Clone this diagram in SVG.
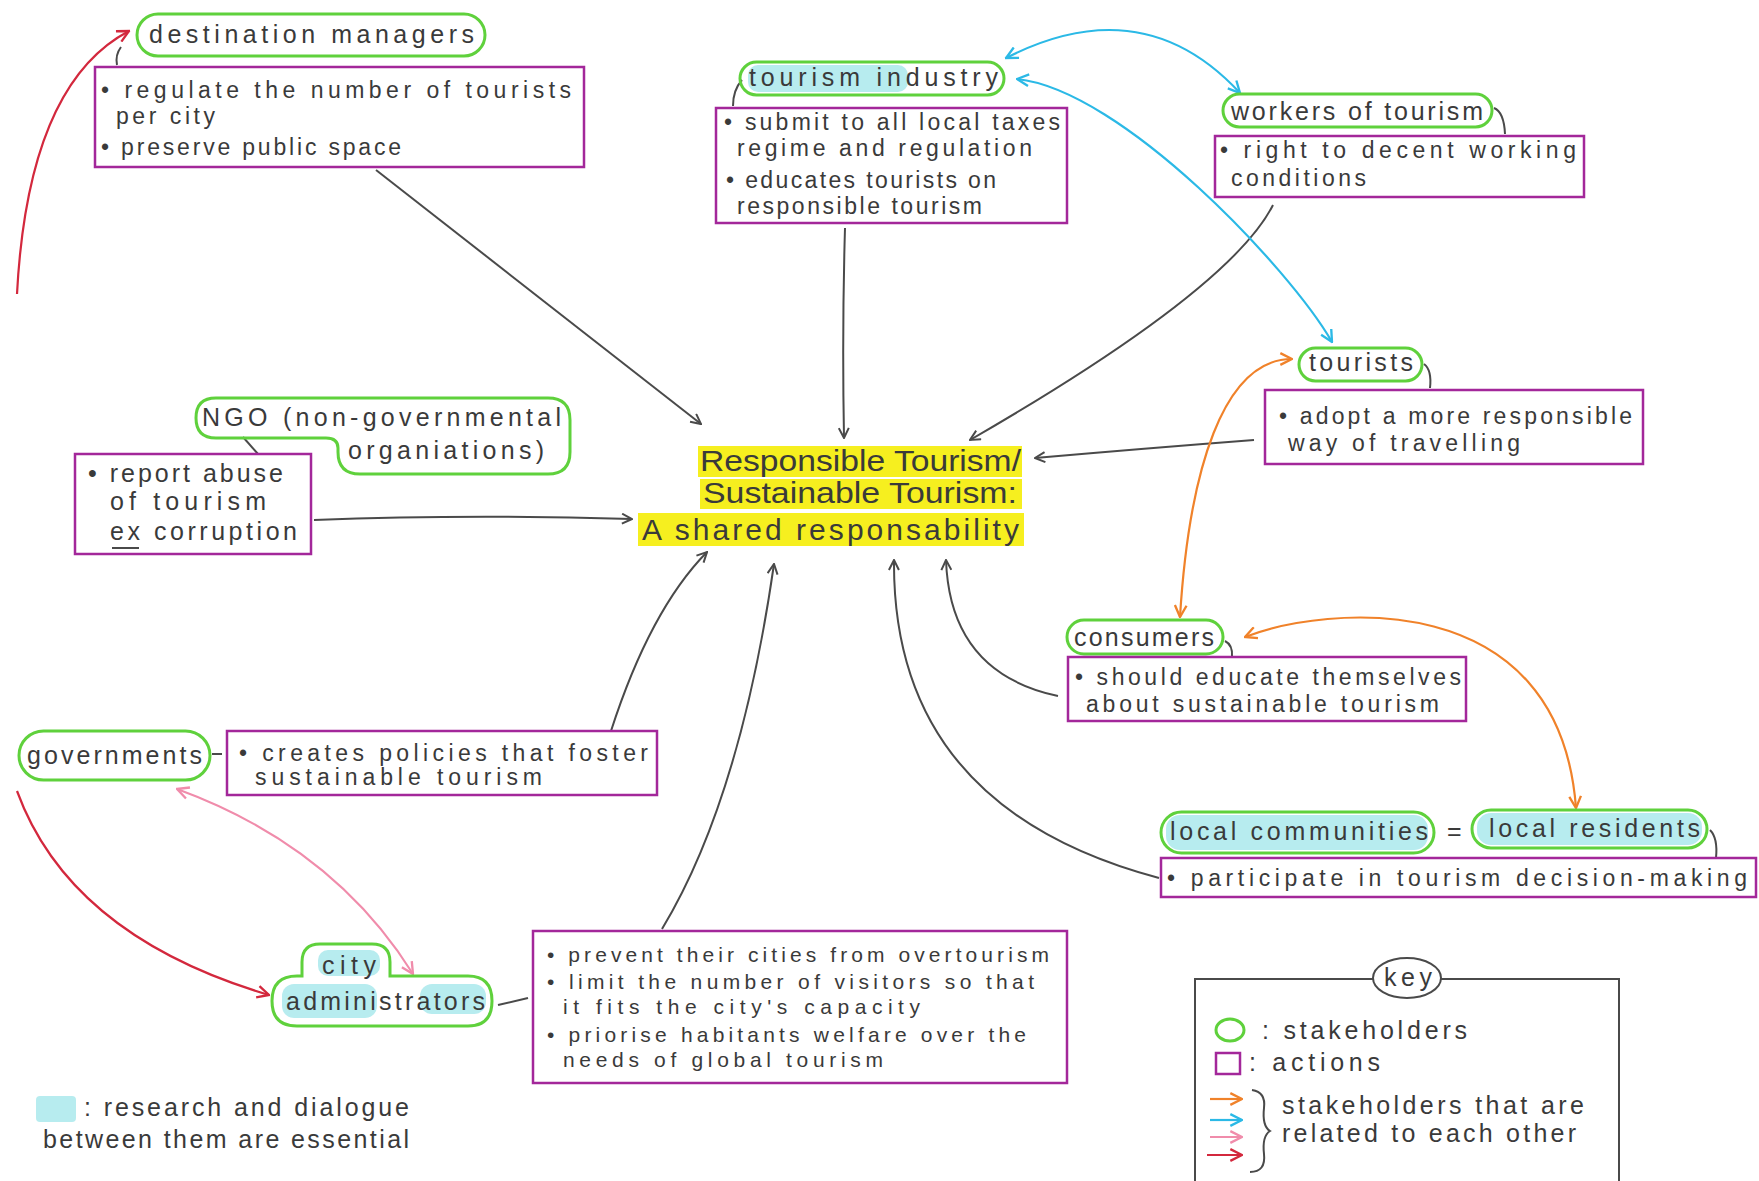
<svg xmlns="http://www.w3.org/2000/svg" width="1759" height="1181" viewBox="0 0 1759 1181">
<defs>
<style>
text{font-family:"Liberation Sans","DejaVu Sans",sans-serif;fill:#3a3a3a}
.s{font-size:25px}
.a{font-size:23px}
.d{font-size:23px}
.e{font-size:21px}
.c{font-size:30px}
.pill{fill:none;stroke:#5fd13c;stroke-width:3}
.box{fill:none;stroke:#a3279a;stroke-width:2.5}
.hl{fill:#9fe6ea;opacity:0.75}
.yl{fill:#f6ef1f}
.k{fill:none;stroke:#4a4a4a;stroke-width:2}
.cy{fill:none;stroke:#2bb9e6;stroke-width:2.2}
.or{fill:none;stroke:#f0822a;stroke-width:2.2}
.pk{fill:none;stroke:#f08cab;stroke-width:2}
.rd{fill:none;stroke:#d3283d;stroke-width:2.2}
</style>
<marker id="mk" viewBox="0 0 12 12" refX="11" refY="6" markerWidth="12" markerHeight="12" markerUnits="userSpaceOnUse" orient="auto-start-reverse"><path d="M1,1 L11,6 L1,11" fill="none" stroke="#4a4a4a" stroke-width="2"/></marker>
<marker id="mc" viewBox="0 0 12 12" refX="11" refY="6" markerWidth="14" markerHeight="14" markerUnits="userSpaceOnUse" orient="auto-start-reverse"><path d="M1,1 L11,6 L1,11" fill="none" stroke="#2bb9e6" stroke-width="2"/></marker>
<marker id="mo" viewBox="0 0 12 12" refX="11" refY="6" markerWidth="14" markerHeight="14" markerUnits="userSpaceOnUse" orient="auto-start-reverse"><path d="M1,1 L11,6 L1,11" fill="none" stroke="#f0822a" stroke-width="2"/></marker>
<marker id="mp" viewBox="0 0 12 12" refX="11" refY="6" markerWidth="14" markerHeight="14" markerUnits="userSpaceOnUse" orient="auto-start-reverse"><path d="M1,1 L11,6 L1,11" fill="none" stroke="#f08cab" stroke-width="2"/></marker>
<marker id="mr" viewBox="0 0 12 12" refX="11" refY="6" markerWidth="14" markerHeight="14" markerUnits="userSpaceOnUse" orient="auto-start-reverse"><path d="M1,1 L11,6 L1,11" fill="none" stroke="#d3283d" stroke-width="2"/></marker>
</defs>
<rect width="1759" height="1181" fill="#ffffff"/>

<g id="connectors">
<path class="k" d="M376 170 L701 424" marker-end="url(#mk)"/>
<path class="k" d="M845 228 Q842 330 844 438" marker-end="url(#mk)"/>
<path class="k" d="M1273 205 Q1230 290 970 440" marker-end="url(#mk)"/>
<path class="k" d="M1254 440 Q1150 448 1035 458" marker-end="url(#mk)"/>
<path class="k" d="M314 520 Q470 514 632 519" marker-end="url(#mk)"/>
<path class="k" d="M611 731 Q650 610 707 552" marker-end="url(#mk)"/>
<path class="k" d="M662 929 Q740 800 774 564" marker-end="url(#mk)"/>
<path class="k" d="M1159 878 Q892 807 894 560" marker-end="url(#mk)"/>
<path class="k" d="M1058 696 Q950 673 946 560" marker-end="url(#mk)"/>
<path class="rd" d="M17 294 Q28 84 129 31" marker-end="url(#mr)"/>
<path class="rd" d="M17 791 Q70 936 269 995" marker-end="url(#mr)"/>
<path class="pk" d="M177 789 Q333 846 413 974" marker-start="url(#mp)" marker-end="url(#mp)"/>
<path class="cy" d="M1006 58 Q1143 -12 1240 93" marker-start="url(#mc)" marker-end="url(#mc)"/>
<path class="cy" d="M1017 79 C1122 90 1290 269 1332 342" marker-start="url(#mc)" marker-end="url(#mc)"/>
<path class="or" d="M1292 359 C1223 359 1189 471 1180 617" marker-start="url(#mo)" marker-end="url(#mo)"/>
<path class="or" d="M1245 637 C1324 606 1559 583 1576 808" marker-start="url(#mo)" marker-end="url(#mo)"/>
<path class="k" d="M121 47 Q115 55 117 65"/>
<path class="k" d="M742 80 Q733 90 733 106"/>
<path class="k" d="M1494 108 Q1504 112 1505 134"/>
<path class="k" d="M1424 364 Q1432 370 1430 388"/>
<path class="k" d="M243 437 L258 454"/>
<path class="k" d="M1225 641 Q1233 645 1232 657"/>
<path class="k" d="M1710 830 Q1718 838 1716 858"/>
<path class="k" d="M212 754 H222"/>
<path class="k" d="M498 1005 L528 998"/>
</g>

<g id="center">
<rect class="yl" x="698" y="446" width="324" height="31"/>
<rect class="yl" x="700" y="479" width="322" height="30"/>
<rect class="yl" x="638" y="513" width="386" height="33"/>
<text class="c" x="700" y="471" textLength="321" lengthAdjust="spacingAndGlyphs">Responsible Tourism/</text>
<text class="c" x="703" y="503" textLength="314" lengthAdjust="spacingAndGlyphs">Sustainable Tourism:</text>
<text class="c" x="642" y="540" textLength="377">A shared responsability</text>
</g>

<g id="destination-managers">
<rect class="pill" x="137" y="14" width="348" height="42" rx="21"/>
<text class="s" x="149" y="43" textLength="325">destination managers</text>
</g>
<g id="destination-actions">
<rect class="box" x="95" y="67" width="489" height="100"/>
<text class="d" x="101" y="98" textLength="470">• regulate the number of tourists</text>
<text class="d" x="116" y="124" textLength="99">per city</text>
<text class="d" x="101" y="155" textLength="300">• preserve public space</text>
</g>

<g id="tourism-industry">
<rect class="hl" x="748" y="65" width="160" height="27" rx="10"/>
<rect class="pill" x="740" y="62" width="264" height="33" rx="16.5"/>
<text class="s" x="749" y="86" textLength="249">tourism industry</text>
</g>
<g id="tourism-industry-actions">
<rect class="box" x="716" y="108" width="351" height="115"/>
<text class="a" x="724" y="130" textLength="336">• submit to all local taxes</text>
<text class="a" x="737" y="156" textLength="295">regime and regulation</text>
<text class="a" x="726" y="188" textLength="270">• educates tourists on</text>
<text class="a" x="737" y="214" textLength="245">responsible tourism</text>
</g>

<g id="workers-of-tourism">
<rect class="pill" x="1223" y="94" width="269" height="33" rx="16.5"/>
<text class="s" x="1231" y="120" textLength="252">workers of tourism</text>
</g>
<g id="workers-actions">
<rect class="box" x="1215" y="136" width="369" height="61"/>
<text class="a" x="1220" y="158" textLength="356">• right to decent working</text>
<text class="a" x="1231" y="186" textLength="135">conditions</text>
</g>

<g id="tourists">
<rect class="pill" x="1299" y="348" width="123" height="33" rx="16.5"/>
<text class="s" x="1309" y="371" textLength="104">tourists</text>
</g>
<g id="tourists-actions">
<rect class="box" x="1265" y="390" width="378" height="74"/>
<text class="a" x="1279" y="424" textLength="353">• adopt a more responsible</text>
<text class="a" x="1288" y="451" textLength="232">way of travelling</text>
</g>

<g id="ngo">
<path class="pill" d="M216 398 H548 Q570 398 570 420 V452 Q570 474 548 474 H360 Q338 474 338 452 V448 Q338 438 326 438 H216 Q196 438 196 418 Q196 398 216 398 Z"/>
<text class="s" x="202" y="426" textLength="359">NGO (non-governmental</text>
<text class="s" x="348" y="459" textLength="196">organiations)</text>
</g>
<g id="ngo-actions">
<rect class="box" x="75" y="454" width="236" height="100"/>
<text class="s" x="88" y="482" textLength="195">• report abuse</text>
<text class="s" x="110" y="510" textLength="156">of tourism</text>
<text class="s" x="110" y="540" textLength="187">ex corruption</text>
<path class="k" d="M112 548 H139"/>
</g>

<g id="consumers">
<rect class="pill" x="1067" y="620" width="156" height="34" rx="17"/>
<text class="s" x="1074" y="646" textLength="140">consumers</text>
</g>
<g id="consumers-actions">
<rect class="box" x="1068" y="657" width="398" height="64"/>
<text class="a" x="1075" y="685" textLength="386">• should educate themselves</text>
<text class="a" x="1086" y="712" textLength="353">about sustainable tourism</text>
</g>

<g id="governments">
<rect class="pill" x="19" y="731" width="191" height="49" rx="24.5"/>
<text class="s" x="27" y="764" textLength="175">governments</text>
</g>
<g id="governments-actions">
<rect class="box" x="227" y="731" width="430" height="64"/>
<text class="a" x="239" y="761" textLength="409">• creates policies that foster</text>
<text class="a" x="255" y="785" textLength="287">sustainable tourism</text>
</g>

<g id="local-communities">
<rect class="hl" x="1166" y="815" width="262" height="35" rx="14"/>
<rect class="pill" x="1161" y="812" width="273" height="41" rx="20.5"/>
<text class="s" x="1170" y="840" textLength="258">local communities</text>
</g>
<text class="s" x="1447" y="840">=</text>
<g id="local-residents">
<rect class="hl" x="1477" y="813" width="225" height="32" rx="14"/>
<rect class="pill" x="1472" y="810" width="235" height="38" rx="19"/>
<text class="s" x="1489" y="837" textLength="211">local residents</text>
</g>
<g id="local-actions">
<rect class="box" x="1161" y="858" width="595" height="39"/>
<text class="a" x="1167" y="886" textLength="580">• participate in tourism decision-making</text>
</g>

<g id="city-administrators">
<rect class="hl" x="318" y="950" width="62" height="26" rx="10"/>
<rect class="hl" x="282" y="984" width="95" height="34" rx="12"/>
<rect class="hl" x="420" y="984" width="66" height="30" rx="12"/>
<path class="pill" d="M320 944 H372 Q390 944 390 962 V976 H468 Q492 976 492 1001 Q492 1026 468 1026 H297 Q272 1026 272 1001 Q272 976 297 976 H302 V962 Q302 944 320 944 Z"/>
<text class="s" x="322" y="974" textLength="54">city</text>
<text class="s" x="286" y="1010" textLength="199">administrators</text>
</g>
<g id="city-actions">
<rect class="box" x="533" y="931" width="534" height="152"/>
<text class="e" x="547" y="962" textLength="502">• prevent their cities from overtourism</text>
<text class="e" x="547" y="989" textLength="487">• limit the number of visitors so that</text>
<text class="e" x="563" y="1014" textLength="357">it fits the city's capacity</text>
<text class="e" x="547" y="1042" textLength="479">• priorise habitants welfare over the</text>
<text class="e" x="563" y="1067" textLength="320">needs of global tourism</text>
</g>

<g id="note">
<rect class="hl" x="36" y="1096" width="40" height="26" rx="4"/>
<text class="s" x="84" y="1116" textLength="325">: research and dialogue</text>
<text class="s" x="43" y="1148" textLength="366">between them are essential</text>
</g>

<g id="key">
<path class="k" d="M1195 1181 V979 H1374 M1441 979 H1619 V1181"/>
<ellipse class="k" cx="1407" cy="978" rx="34" ry="20"/>
<text class="s" x="1384" y="986" textLength="48">key</text>
<ellipse class="pill" cx="1230" cy="1030" rx="14" ry="11"/>
<text class="s" x="1262" y="1039" textLength="205">: stakeholders</text>
<rect class="box" x="1216" y="1053" width="24" height="21"/>
<text class="s" x="1249" y="1071" textLength="131">: actions</text>
<path class="or" d="M1210 1099 H1242" marker-end="url(#mo)"/>
<path class="cy" d="M1210 1120 H1242" marker-end="url(#mc)"/>
<path class="pk" d="M1210 1137 H1242" marker-end="url(#mp)"/>
<path class="rd" d="M1207 1155 H1242" marker-end="url(#mr)"/>
<path class="k" d="M1252 1090 Q1266 1092 1264 1108 Q1262 1126 1270 1131 Q1262 1136 1264 1154 Q1266 1172 1250 1172"/>
<text class="s" x="1282" y="1114" textLength="302">stakeholders that are</text>
<text class="s" x="1282" y="1142" textLength="294">related to each other</text>
</g>
</svg>
